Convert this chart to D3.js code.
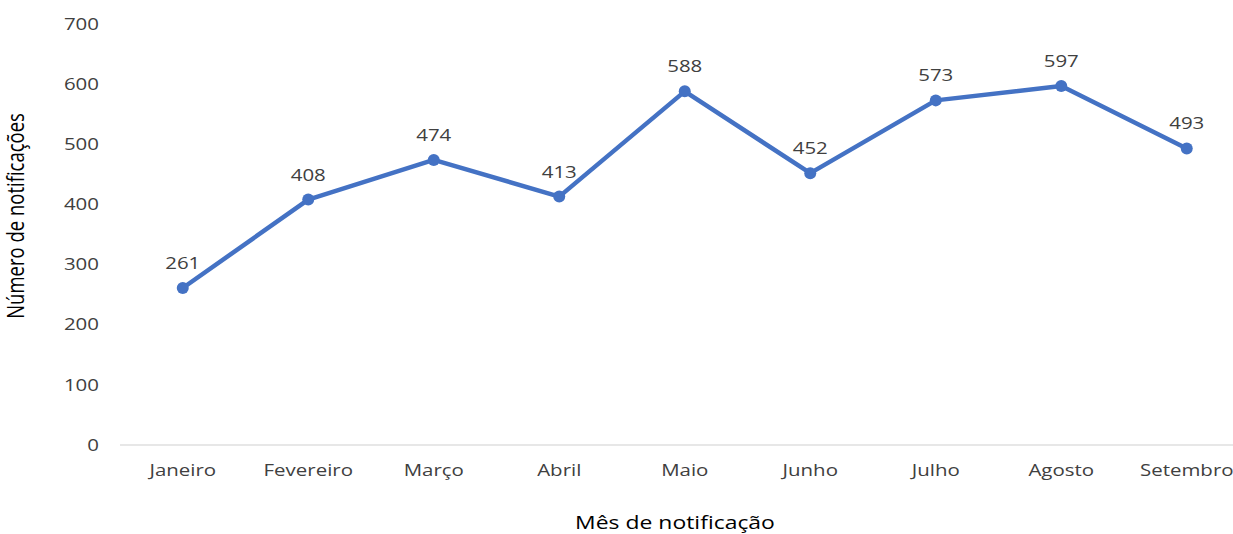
<!DOCTYPE html>
<html>
<head>
<meta charset="utf-8">
<script src="https://d3js.org/d3.v7.min.js"></script>
<style>
  body { margin: 0; background: #fff; }
  svg { font-family: "Open Sans", "Noto Sans", sans-serif; }
</style>
</head>
<body>
<div id="chart"></div>
<script>
const months = ["Janeiro", "Fevereiro", "Março", "Abril", "Maio", "Junho", "Julho", "Agosto", "Setembro"];
const notifications = [261, 408, 474, 413, 588, 452, 573, 597, 493];
const yTicks = [0, 100, 200, 300, 400, 500, 600, 700];

const width = 1233, height = 534;
const stretch = 1.24; // the reference text looks stretched sideways
const svg = d3.select("#chart").append("svg")
    .attr("width", width)
    .attr("height", height);

const x = d3.scaleBand().domain(months).range([120, 1249.5]).padding(0);
const y = d3.scaleLinear().domain([0, 700]).range([445, 24]);
const cx = m => x(m) + x.bandwidth() / 2;

// baseline
svg.append("line")
    .attr("x1", 120).attr("x2", width)
    .attr("y1", y(0)).attr("y2", y(0))
    .attr("stroke", "#d0d0d0").attr("stroke-width", 1.2);

// y tick labels
svg.selectAll(".ytick")
    .data(yTicks)
    .enter().append("text")
    .attr("class", "ytick")
    .attr("transform", d => `translate(99,${y(d)}) scale(${stretch},1)`)
    .attr("dy", "0.35em")
    .attr("text-anchor", "end")
    .attr("font-size", 16.5)
    .attr("fill", "#404040")
    .text(d => d);

// x tick labels
svg.selectAll(".xtick")
    .data(months)
    .enter().append("text")
    .attr("class", "xtick")
    .attr("transform", d => `translate(${cx(d)},476) scale(${stretch},1)`)
    .attr("text-anchor", "middle")
    .attr("font-size", 16.5)
    .attr("fill", "#404040")
    .text(d => d);

const pts = months.map((m, i) => ({ m, v: notifications[i] }));

const line = d3.line()
    .x(d => cx(d.m))
    .y(d => y(d.v));

svg.append("path")
    .datum(pts)
    .attr("d", line)
    .attr("fill", "none")
    .attr("stroke", "#4472C4")
    .attr("stroke-width", 4.5)
    .attr("stroke-linejoin", "round");

svg.selectAll(".dot")
    .data(pts)
    .enter().append("circle")
    .attr("cx", d => cx(d.m))
    .attr("cy", d => y(d.v))
    .attr("r", 6)
    .attr("fill", "#4472C4");

svg.selectAll(".lbl")
    .data(pts)
    .enter().append("text")
    .attr("transform", d => `translate(${cx(d.m)},${y(d.v) - 19}) scale(${stretch},1)`)
    .attr("text-anchor", "middle")
    .attr("font-size", 16.5)
    .attr("fill", "#404040")
    .text(d => d.v);

// axis titles
svg.append("text")
    .attr("transform", `translate(24,216) scale(${stretch},1) rotate(-90)`)
    .attr("text-anchor", "middle")
    .attr("font-size", 18.5)
    .attr("fill", "#000")
    .text("Número de notificações");

svg.append("text")
    .attr("transform", `translate(675,529) scale(${stretch},1)`)
    .attr("text-anchor", "middle")
    .attr("font-size", 18.5)
    .attr("fill", "#000")
    .text("Mês de notificação");
</script>
</body>
</html>
